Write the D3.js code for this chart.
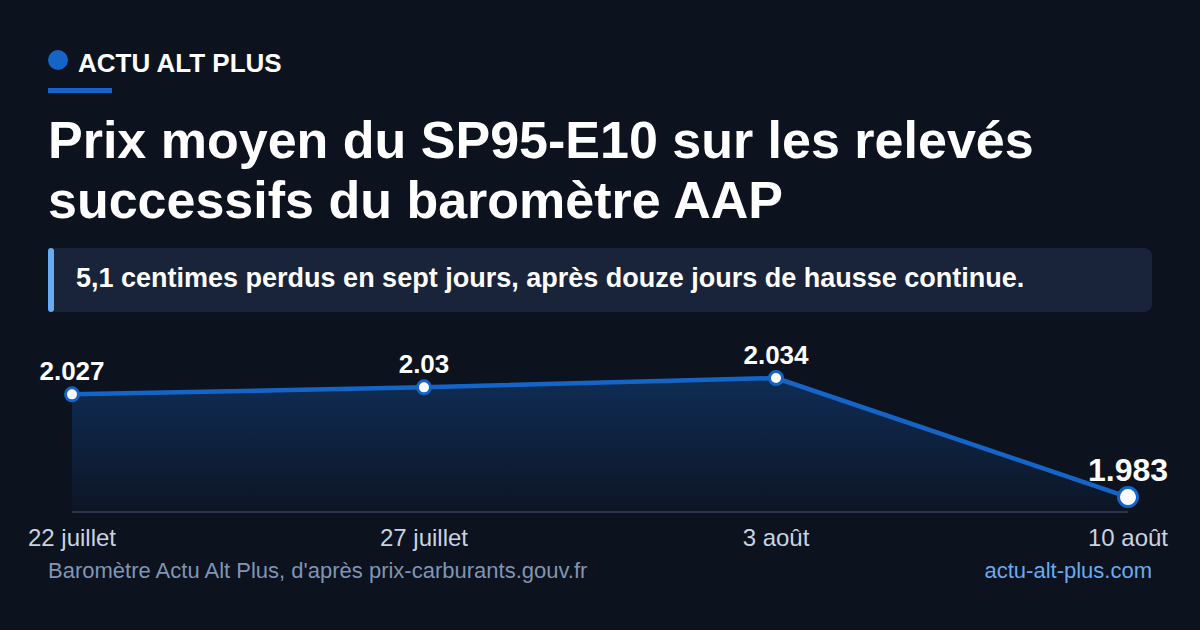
<!DOCTYPE html>
<html lang="fr">
<head>
<meta charset="utf-8">
<script src="https://cdn.jsdelivr.net/npm/d3@7"></script>
<style>
  html, body { margin: 0; padding: 0; background: #0c121e; }
  svg { display: block; font-family: "Liberation Sans", Arial, sans-serif; }
</style>
</head>
<body>
<svg id="chart" width="1200" height="630"></svg>
<script>
// Data
const dates = ['22 juillet', '27 juillet', '3 août', '10 août'];
const prices = [2.027, 2.03, 2.034, 1.983];
const priceLabels = ['2.027', '2.03', '2.034', '1.983'];

const titleLines = ['Prix moyen du SP95-E10 sur les relevés', 'successifs du baromètre AAP'];
const subtitle = '5,1 centimes perdus en sept jours, après douze jours de hausse continue.';
const sourceText = "Baromètre Actu Alt Plus, d'après prix-carburants.gouv.fr";
const siteText = 'actu-alt-plus.com';

const W = 1200, H = 630;
const blue = '#1565c8';

const svg = d3.select('#chart');

svg.append('rect').attr('width', W).attr('height', H).attr('fill', '#0c121e');

// Header brand
svg.append('circle').attr('cx', 58).attr('cy', 60).attr('r', 10).attr('fill', blue);
svg.append('text')
    .attr('x', 78).attr('y', 72)
    .attr('fill', '#ffffff')
    .attr('font-size', 26).attr('font-weight', 700)
    .text('ACTU ALT PLUS');
svg.append('rect').attr('x', 48).attr('y', 88).attr('width', 64).attr('height', 5).attr('fill', blue);

// Title
svg.selectAll('.title')
    .data(titleLines)
    .enter()
    .append('text')
    .attr('class', 'title')
    .attr('x', 48)
    .attr('y', (d, i) => 158 + i * 60)
    .attr('fill', '#ffffff')
    .attr('font-size', 52).attr('font-weight', 700)
    .text(d => d);

// Callout box
svg.append('rect')
    .attr('x', 48).attr('y', 248).attr('width', 1104).attr('height', 64)
    .attr('rx', 8).attr('fill', '#19233a');
svg.append('rect')
    .attr('x', 48).attr('y', 248).attr('width', 6).attr('height', 64)
    .attr('rx', 3).attr('fill', '#6aaaf0');
svg.append('text')
    .attr('x', 76).attr('y', 287)
    .attr('fill', '#ffffff')
    .attr('font-size', 27).attr('font-weight', 700)
    .text(subtitle);

// Scales
const x = d3.scalePoint().domain(dates).range([72, 1128]);
const y = d3.scaleLinear().domain([1.9766, 2.04]).range([512, 364]);

const rows = dates.map((d, i) => ({ date: d, value: prices[i], label: priceLabels[i] }));

// Gradient for area
const defs = svg.append('defs');
const grad = defs.append('linearGradient')
    .attr('id', 'areaGrad')
    .attr('x1', 0).attr('y1', 0).attr('x2', 0).attr('y2', 1);
grad.append('stop').attr('offset', '0%').attr('stop-color', blue).attr('stop-opacity', 0.32);
grad.append('stop').attr('offset', '100%').attr('stop-color', blue).attr('stop-opacity', 0.04);

const area = d3.area()
    .x(d => x(d.date))
    .y0(y.range()[0])
    .y1(d => y(d.value));

svg.append('path')
    .datum(rows)
    .attr('d', area)
    .attr('fill', 'url(#areaGrad)');

// Baseline
svg.append('line')
    .attr('x1', x(dates[0])).attr('x2', x(dates[dates.length - 1]))
    .attr('y1', y.range()[0]).attr('y2', y.range()[0])
    .attr('stroke', '#2b3448').attr('stroke-width', 2);

const line = d3.line()
    .x(d => x(d.date))
    .y(d => y(d.value));

svg.append('path')
    .datum(rows)
    .attr('d', line)
    .attr('fill', 'none')
    .attr('stroke', blue)
    .attr('stroke-width', 4.5)
    .attr('stroke-linejoin', 'round');

const last = rows.length - 1;

svg.selectAll('.dot')
    .data(rows)
    .enter()
    .append('circle')
    .attr('class', 'dot')
    .attr('cx', d => x(d.date))
    .attr('cy', d => y(d.value))
    .attr('r', (d, i) => i === last ? 9.5 : 6.5)
    .attr('fill', '#ffffff')
    .attr('stroke', blue)
    .attr('stroke-width', 3);

svg.selectAll('.val')
    .data(rows)
    .enter()
    .append('text')
    .attr('class', 'val')
    .attr('x', d => x(d.date))
    .attr('y', (d, i) => y(d.value) - (i === last ? 16 : 14))
    .attr('text-anchor', 'middle')
    .attr('fill', '#ffffff')
    .attr('font-size', (d, i) => i === last ? 32 : 26)
    .attr('font-weight', 700)
    .text(d => d.label);

// X labels
svg.selectAll('.xlab')
    .data(dates)
    .enter()
    .append('text')
    .attr('class', 'xlab')
    .attr('x', d => x(d))
    .attr('y', 546)
    .attr('text-anchor', 'middle')
    .attr('fill', '#c9d3e1')
    .attr('font-size', 24)
    .text(d => d);

// Footer
svg.append('text')
    .attr('x', 48).attr('y', 578)
    .attr('fill', '#8095b3')
    .attr('font-size', 22)
    .text(sourceText);
svg.append('text')
    .attr('x', 1152).attr('y', 578)
    .attr('text-anchor', 'end')
    .attr('fill', '#6aaaf0')
    .attr('font-size', 22)
    .text(siteText);
</script>
</body>
</html>
